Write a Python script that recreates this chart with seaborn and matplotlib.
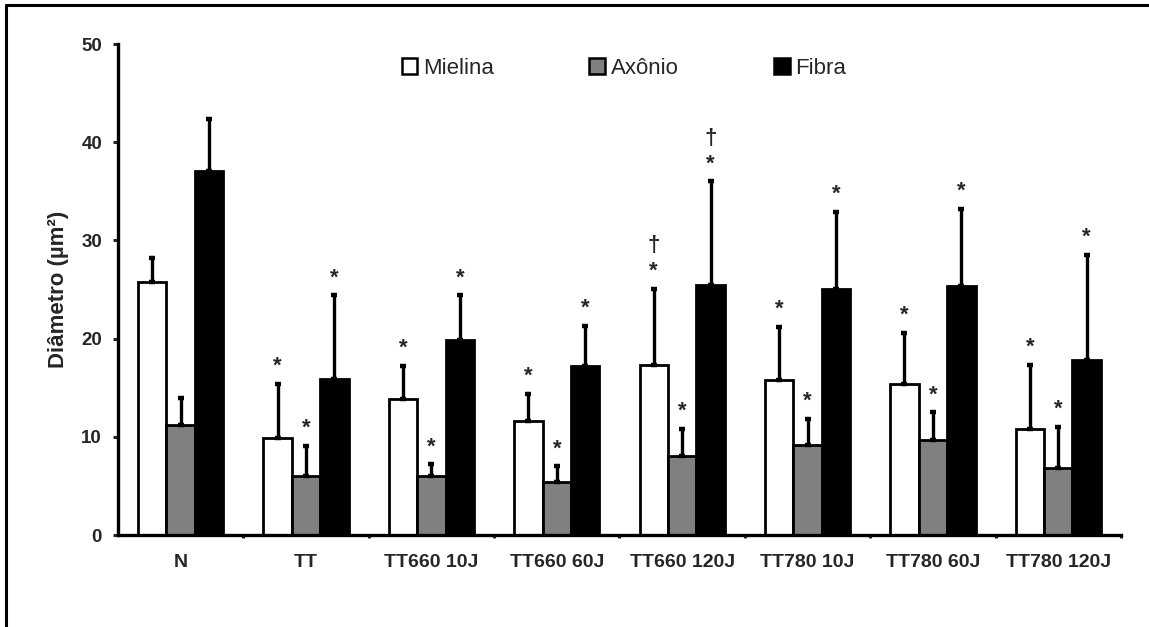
import numpy as np
import pandas as pd
import matplotlib
matplotlib.use("Agg")
import matplotlib.pyplot as plt
import seaborn as sns
from matplotlib.patches import Patch
from matplotlib.lines import Line2D

groups = ["N", "TT", "TT660 10J", "TT660 60J", "TT660 120J", "TT780 10J", "TT780 60J", "TT780 120J"]
series = ["Mielina", "Axônio", "Fibra"]

mielina = [25.8, 9.85, 13.9, 11.6, 17.3, 15.8, 15.4, 10.8]
axonio = [11.2, 6.0, 6.0, 5.4, 8.0, 9.2, 9.7, 6.8]
fibra = [37.1, 15.9, 19.9, 17.2, 25.5, 25.1, 25.4, 17.8]

mielina_sd = [2.4, 5.55, 3.3, 2.8, 7.8, 5.4, 5.2, 6.5]
axonio_sd = [2.8, 3.1, 1.2, 1.6, 2.8, 2.6, 2.8, 4.2]
fibra_sd = [5.3, 8.5, 4.5, 4.1, 10.5, 7.8, 7.8, 10.7]

mielina_sig = ["", "*", "*", "*", "†\n*", "*", "*", "*"]
axonio_sig = ["", "*", "*", "*", "*", "*", "*", "*"]
fibra_sig = ["", "*", "*", "*", "†\n*", "*", "*", "*"]

colors = ["#FFFFFF", "#808080", "#000000"]

df = pd.DataFrame({
    "grupo": groups * 3,
    "serie": [s for s in series for _ in groups],
    "valor": mielina + axonio + fibra,
})

sns.set_style("white")
plt.rcParams["font.family"] = ["Liberation Sans", "DejaVu Sans"]

fig = plt.figure(figsize=(11.49, 6.27), dpi=100)
ax = fig.add_axes([0.1027, 0.1467, 0.8729, 0.7831])

sns.barplot(data=df, x="grupo", y="valor", hue="serie", order=groups,
            hue_order=series, palette=colors, edgecolor="black",
            linewidth=2.0, width=0.68, errorbar=None, ax=ax, legend=False,
            saturation=1)

sds = [mielina_sd, axonio_sd, fibra_sd]
sigs = [mielina_sig, axonio_sig, fibra_sig]
vals = [mielina, axonio, fibra]
bar_containers = list(ax.containers)
for k, cont in enumerate(bar_containers):
    xs = [p.get_x() + p.get_width() / 2 for p in cont.patches]
    ax.errorbar(xs, vals[k], yerr=[np.zeros(len(xs)), sds[k]], fmt="none",
                ecolor="black", elinewidth=2.4, capsize=2.5, capthick=3.2,
                zorder=3)
    for x, v, s, lab in zip(xs, vals[k], sds[k], sigs[k]):
        if lab:
            ax.annotate(lab, (x, v + s), xytext=(0, 5), textcoords="offset points",
                        ha="center", va="bottom", fontsize=16,
                        fontweight="bold", linespacing=1.3)

ax.set_xlim(-0.5, 7.5)
ax.set_ylim(0, 50)
ax.set_yticks([0, 10, 20, 30, 40, 50])
ax.set_xlabel("")
ax.set_ylabel("Diâmetro (µm²)", fontsize=16, fontweight="bold", labelpad=9)

for side in ["top", "right"]:
    ax.spines[side].set_visible(False)
for side in ["left", "bottom"]:
    ax.spines[side].set_linewidth(2.4)
    ax.spines[side].set_color("black")

ax.tick_params(axis="y", which="major", direction="out", length=3.5, width=2.2,
               pad=8, labelsize=13.5, left=True)
ax.tick_params(axis="x", which="major", length=0, pad=14, labelsize=14)
ax.set_xticks(np.arange(0.5, 8.0, 1.0), minor=True)
ax.tick_params(axis="x", which="minor", direction="out", length=2.5, width=2.2,
               bottom=True)
for lbl in ax.get_xticklabels() + ax.get_yticklabels():
    lbl.set_fontweight("bold")

handles = [Patch(facecolor=c, edgecolor="black", linewidth=1.8) for c in colors]
fig.legend(handles, series, loc="center", bbox_to_anchor=(0.543, 0.8915),
           ncol=3, frameon=False, fontsize=16, handlelength=0.7,
           handleheight=0.7, handletextpad=0.25, columnspacing=4.3)

fig.add_artist(Line2D([0.005, 0.005], [0.0, 0.992], transform=fig.transFigure,
                      color="black", linewidth=2.2))
fig.add_artist(Line2D([0.005, 1.0], [0.992, 0.992], transform=fig.transFigure,
                      color="black", linewidth=2.2))

fig.savefig("out.png", dpi=100)
